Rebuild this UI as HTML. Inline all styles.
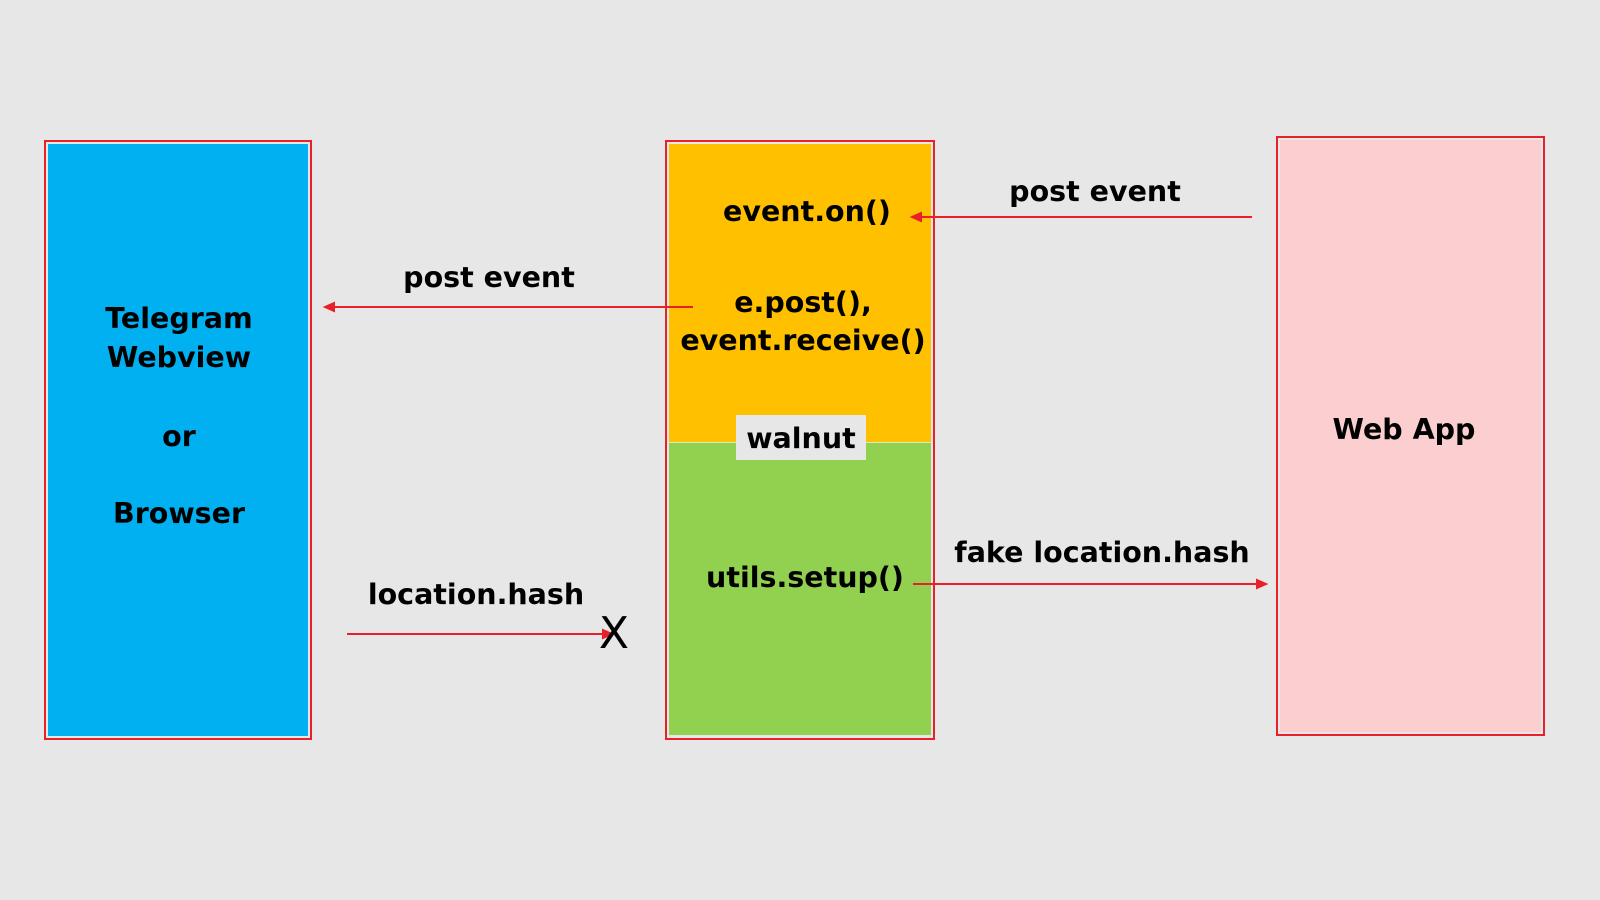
<!DOCTYPE html>
<html><head><style>
body{margin:0;width:1600px;height:900px;background:#e7e7e7;position:relative;overflow:hidden;font-family:"DejaVu Sans",sans-serif;font-weight:bold;}
.b{position:absolute;box-sizing:border-box;border:2px solid #e8202a;}
.t{position:absolute;transform:translate(-50%,-50%);font-size:28.5px;white-space:nowrap;color:#000;text-align:center;line-height:38px;}
</style></head><body>
<div class="b" style="left:44px;top:140px;width:268px;height:600px;padding:2px;"><div style="width:100%;height:100%;background:#00b0f0;"></div></div>
<div class="b" style="left:665px;top:140px;width:270px;height:600px;padding:2px;"><div style="width:100%;height:298px;background:#ffc000;border-bottom:1px solid #dde8c8"></div><div style="width:100%;height:292px;background:#92d050;"></div></div>
<div class="b" style="left:1276px;top:136px;width:269px;height:600px;padding:2px;"><div style="width:100%;height:100%;background:#fbcfd0;"></div></div>
<div style="position:absolute;left:736px;top:415px;width:130px;height:45px;background:#e7e7e7;"></div>
<svg width="1600" height="900" style="position:absolute;left:0;top:0">
<g stroke="#e8202a" stroke-width="2" fill="#e8202a">
<line x1="1252" y1="217" x2="918" y2="217"/><polygon points="912,217 921,213 921,221"/>
<line x1="693" y1="307" x2="331" y2="307"/><polygon points="325,307 334,303 334,311"/>
<line x1="347" y1="634" x2="606" y2="634"/><polygon points="612,634 603,630 603,638"/>
<line x1="913" y1="584" x2="1260" y2="584"/><polygon points="1266,584 1257,580 1257,588"/>
</g></svg>
<div class="t" style="left:179px;top:319px">Telegram</div>
<div class="t" style="left:179px;top:358px">Webview</div>
<div class="t" style="left:179px;top:437px">or</div>
<div class="t" style="left:179px;top:514px">Browser</div>
<div class="t" style="left:807px;top:212px">event.on()</div>
<div class="t" style="left:803px;top:303px">e.post(),</div>
<div class="t" style="left:803px;top:341px">event.receive()</div>
<div class="t" style="left:801px;top:439px">walnut</div>
<div class="t" style="left:805px;top:578px">utils.setup()</div>
<div class="t" style="left:1404px;top:430px">Web App</div>
<div class="t" style="left:1095px;top:192px">post event</div>
<div class="t" style="left:489px;top:278px">post event</div>
<div class="t" style="left:476px;top:595px">location.hash</div>
<div class="t" style="left:1102px;top:553px">fake location.hash</div>
<div class="t" style="left:614px;top:634px;font-weight:normal;font-size:44px;">X</div>
</body></html>
